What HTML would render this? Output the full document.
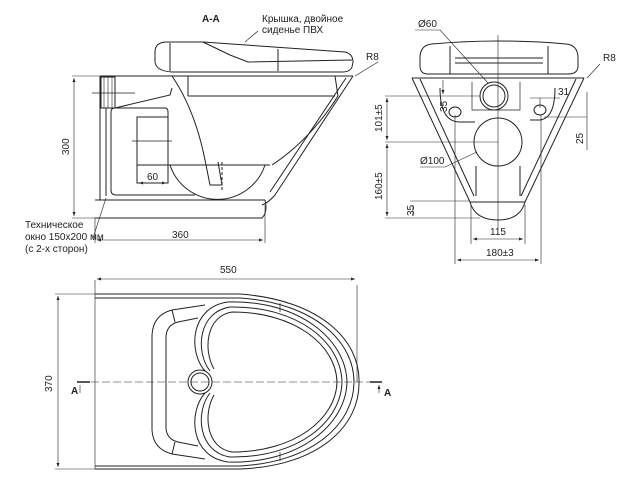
<!DOCTYPE html>
<html><head><meta charset="utf-8"><style>
html,body{margin:0;padding:0;background:#fff}
svg{display:block}
text{font-family:"Liberation Sans",sans-serif;font-size:10px;fill:#222}
</style></head><body>
<svg width="628" height="484" viewBox="0 0 628 484" xmlns="http://www.w3.org/2000/svg" fill="none" stroke="#222" stroke-width="1">
<defs><marker id="a" viewBox="0 0 8 6" refX="8" refY="3" markerWidth="7" markerHeight="5" orient="auto-start-reverse"><path d="M0,0L8,3L0,6Z" fill="#222" stroke="none"/></marker></defs>

<!-- ===== Section A-A ===== -->
<text x="202" y="22" font-weight="bold" font-size="12" stroke="none">A-A</text>
<text x="262" y="22" stroke="none" font-size="9">Крышка, двойное</text>
<text x="262" y="33" stroke="none" font-size="9">сиденье ПВХ</text>
<path d="M258,31 L245,42" stroke-width="0.7"/>
<path d="M155,52 Q155,42 167,42 L203,42 L345,52 Q353,54 353,62 L352,67 Q350,72 342,72 L172,72 Q156,71 155,62 Z"/>
<path d="M170,43 L170,71 M278,49 L278,71 M203,42 L230,55 L248,62 L352,60"/>
<path d="M100,76 L353,76 M188,96 L335,96 M188,76 L188,96 M335,76 L338,96"/>
<path d="M353,76 L275,195 Q268,203 262,205 M346,78 L270,192"/>
<path d="M338,96 Q310,140 272,165"/>
<path d="M172,76 Q195,110 205,160 L210,185 L222,185 L218,162"/>
<path d="M222,162 L222,190" stroke-dasharray="3,2"/>
<path d="M170,165 A50,50 0 0 0 265,165"/>
<path d="M137,165 L270,165"/>
<path d="M100,76 L100,200 M106,108 L106,196"/>
<rect x="101" y="77" width="14" height="31"/>
<path d="M104,77 L104,108 M108,77 L108,108 M112,77 L112,108" stroke-width="0.6"/>
<path d="M92,93 L135,93" stroke-width="0.7"/>
<path d="M115,108 L170,95 L172,88"/>
<path d="M111,112 Q111,108 115,108 L165,108 Q168,108 168,112 L168,117"/>
<path d="M111,112 L111,190 Q111,195 116,195 L195,195"/>
<rect x="137" y="117" width="31" height="66"/>
<path d="M132,141 L172,141" stroke-width="0.7"/>
<path d="M95,200 L265,200 M95,218 L262,218 Q268,212 265,200"/>
<path d="M72,76 L100,76 M72,218 L95,218" stroke-width="0.6"/>
<path d="M74,78 L74,216" marker-start="url(#a)" marker-end="url(#a)" stroke-width="0.6"/>
<text transform="translate(69,155) rotate(-90)" stroke="none">300</text>
<path d="M139,183 L166,183" marker-start="url(#a)" marker-end="url(#a)" stroke-width="0.6"/>
<text x="147" y="180" stroke="none">60</text>
<path d="M95,218 L95,243 M265,205 L265,243" stroke-width="0.6"/>
<path d="M97,240 L263,240" marker-start="url(#a)" marker-end="url(#a)" stroke-width="0.6"/>
<text x="172" y="238" stroke="none">360</text>
<text x="25" y="228" stroke="none" font-size="9">Техническое</text>
<text x="25" y="240" stroke="none" font-size="9">окно 150х200 мм</text>
<text x="25" y="252" stroke="none" font-size="9">(с 2-х сторон)</text>
<path d="M93,238 L106,198" stroke-width="0.6"/>
<text x="366" y="60" stroke="none" font-size="9">R8</text>
<path d="M378,62 L355,76" stroke-width="0.6"/>

<!-- ===== Front view ===== -->
<path d="M498,35 L498,228" stroke-width="0.6"/>
<path d="M420,58 Q420,45 432,44 Q498,38 566,44 Q578,45 578,58 L578,66 Q578,74 568,74 L428,74 Q420,74 420,66 Z"/>
<path d="M450,46 L450,74 M548,46 L548,74 M455,58 L543,58 M455,63 L543,63"/>
<path d="M412,78 L584,78"/>
<path d="M412,78 L470,202 M420,79 L474,196 M584,78 L525,202 M576,79 L521,196"/>
<path d="M470,202 L525,202 Q520,220 498,220 Q475,220 470,202"/>
<circle cx="494" cy="96" r="14"/><circle cx="494" cy="96" r="11"/>
<path d="M472,82 L472,110 L520,110 L520,82" stroke-width="0.7"/>
<circle cx="498" cy="142" r="24"/>
<path d="M476,166 L476,196 M520,166 L520,196"/>
<ellipse cx="455" cy="112" rx="6" ry="5"/><ellipse cx="540" cy="110" rx="6" ry="5"/>
<path d="M440,88 Q440,122 460,122 L475,122 M555,88 Q555,118 540,120 L530,120"/>
<text x="418" y="27" stroke="none">Ø60</text>
<path d="M415,30 L440,30 L488,83" stroke-width="0.6"/>
<text x="420" y="164" stroke="none">Ø100</text>
<path d="M420,167 L445,167 L477,152" stroke-width="0.6"/>
<path d="M385,96 L480,96 M385,142 L498,142 M385,218 L480,218 M410,201 L470,201" stroke-width="0.6"/>
<path d="M387,98 L387,140" marker-start="url(#a)" marker-end="url(#a)" stroke-width="0.6"/>
<text transform="translate(382,132) rotate(-90)" stroke="none">101±5</text>
<path d="M387,144 L387,216" marker-start="url(#a)" marker-end="url(#a)" stroke-width="0.6"/>
<text transform="translate(382,200) rotate(-90)" stroke="none">160±5</text>
<text transform="translate(447,112) rotate(-90)" stroke="none">35</text>
<path d="M443,80 L443,94" marker-end="url(#a)" stroke-width="0.6"/>
<text transform="translate(414,216) rotate(-90)" stroke="none">35</text>
<path d="M413,205 L413,216" stroke-width="0.6"/>
<path d="M471,205 L471,244 M525,205 L525,244 M455,115 L455,264 M541,115 L541,264" stroke-width="0.6"/>
<path d="M473,239 L523,239" marker-start="url(#a)" marker-end="url(#a)" stroke-width="0.6"/>
<text x="490" y="235" stroke="none">115</text>
<path d="M457,260 L539,260" marker-start="url(#a)" marker-end="url(#a)" stroke-width="0.6"/>
<text x="486" y="256" stroke="none">180±3</text>
<path d="M530,98 L560,98 M540,98 L540,108" stroke-width="0.6"/>
<text x="558" y="95" stroke="none">31</text>
<path d="M544,117 L587,117 M587,92 L587,150" stroke-width="0.6"/>
<text transform="translate(583,144) rotate(-90)" stroke="none">25</text>
<text x="603" y="61" stroke="none" font-size="9">R8</text>
<path d="M600,64 L587,78" stroke-width="0.6"/>

<!-- ===== Plan view ===== -->
<path d="M95,280 L95,469 M357,285 L357,382" stroke-width="0.6"/>
<path d="M97,279 L355,279" marker-start="url(#a)" marker-end="url(#a)" stroke-width="0.6"/>
<text x="220" y="273" stroke="none">550</text>
<path d="M55,294 L95,294 M55,469 L95,469" stroke-width="0.6"/>
<path d="M58,296 L58,467" marker-start="url(#a)" marker-end="url(#a)" stroke-width="0.6"/>
<text transform="translate(52,392) rotate(-90)" stroke="none">370</text>
<path d="M95,294 L240,294 C320,300 360,340 359,382 C360,425 320,466 240,469 L95,469"/>
<path d="M95,298 L240,298 C315,303 354,342 354,382 C354,422 315,462 240,466 L95,466"/>
<!-- seat tab -->
<path d="M205,305 L172,310 Q153,315 152,335 L152,430 Q153,449 172,454 L205,459"/>
<path d="M198,318 L178,322 Q166,325 166,338 L166,427 Q166,439 178,442 L198,446"/>
<path d="M172,310 L175,322 M172,454 L175,442"/>
<!-- seat ring -->
<path d="M205,371 C188,352 190,307 228,302 C300,300 346,340 347,382 C346,424 300,464 228,462 C190,457 188,412 205,393"/>
<path d="M210,371 C195,352 198,312 230,307 C298,306 341,342 342,382 C341,422 298,458 230,457 C198,452 195,412 210,393"/>
<path d="M214,369 C203,350 206,316 232,312 C295,312 336,345 337,382 C336,419 295,452 232,452 C206,448 203,414 214,395"/>
<path d="M280,303 L280,312 M280,452 L280,461" stroke-width="0.7"/>
<circle cx="200" cy="382" r="12"/><circle cx="200" cy="382" r="9"/>
<path d="M80,382 L372,382" stroke-dasharray="8,3" stroke-width="0.6"/>
<path d="M77,382 L90,382 M370,382 L382,382" stroke-width="1.5"/>
<text x="71" y="394" font-weight="bold" stroke="none">A</text>
<text x="384" y="396" font-weight="bold" stroke="none">A</text>
<path d="M80,393 L80,385 M379,393 L379,385" marker-end="url(#a)" stroke-width="0.6"/>
</svg>
</body></html>
